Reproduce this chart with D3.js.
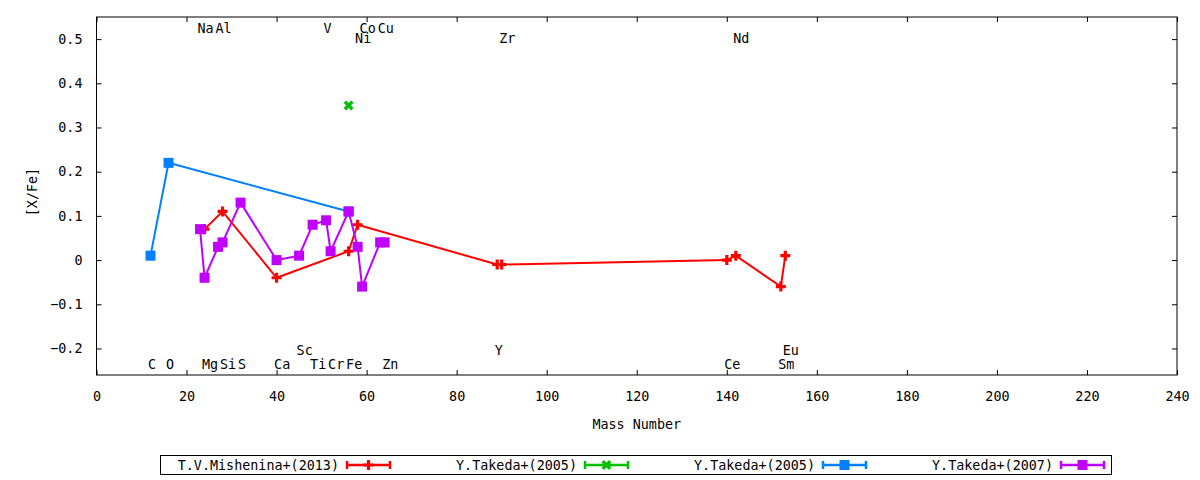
<!DOCTYPE html>
<html>
<head>
<meta charset="utf-8">
<script src="https://cdn.jsdelivr.net/npm/d3@7"></script>
<style>
  body { margin: 0; background: #fff; }
  svg text { font-family: "DejaVu Sans Mono", monospace; font-size: 13.4px; fill: #000; }
</style>
</head>
<body>
<div id="chart"></div>
<script>
// abundance data, mass number vs [X/Fe]
var misheninaMass = [24, 28, 40, 56, 58, 89, 90, 140, 142, 152, 153];
var misheninaXFe  = [0.07, 0.11, -0.04, 0.02, 0.08, -0.01, -0.01, 0.00, 0.01, -0.06, 0.01];

var takeda05aMass = [56];
var takeda05aXFe  = [0.35];

var takeda05bMass = [12, 16, 56];
var takeda05bXFe  = [0.01, 0.22, 0.11];

var takeda07Mass = [23, 24, 27, 28, 32, 40, 45, 48, 51, 52, 56, 58, 59, 63, 64];
var takeda07XFe  = [0.07, -0.04, 0.03, 0.04, 0.13, 0.00, 0.01, 0.08, 0.09, 0.02, 0.11, 0.03, -0.06, 0.04, 0.04];

var seriesNames = ["T.V.Mishenina+(2013)", "Y.Takeda+(2005)", "Y.Takeda+(2005)", "Y.Takeda+(2007)"];

// element name labels
var elemNames = ["Na", "Al", "V", "Co", "Cu", "Ni", "Zr", "Nd",
                 "C", "O", "Mg", "Si", "S", "Ca", "Ti", "Cr", "Fe", "Zn", "Ce", "Sm",
                 "Sc", "Y", "Eu"];
var elemMass  = [23, 27, 51, 59, 63, 58, 90, 142,
                 12, 16, 24, 28, 32, 40, 48, 52, 56, 64, 140, 152,
                 45, 89, 153];
var elemY     = [0.525, 0.525, 0.525, 0.525, 0.525, 0.502, 0.502, 0.502,
                 -0.235, -0.235, -0.235, -0.235, -0.235, -0.235, -0.235, -0.235, -0.235, -0.235, -0.235, -0.235,
                 -0.203, -0.203, -0.203];

var xTicks = d3.range(0, 241, 20);
var yTicks = [-0.2, -0.1, 0, 0.1, 0.2, 0.3, 0.4, 0.5];

var width = 1200, height = 480;
var plotLeft = 96.5, plotRight = 1177, plotTop = 17, plotBottom = 375;

var svg = d3.select("#chart").append("svg").attr("width", width).attr("height", height);

var x = d3.scaleLinear().domain([0, 240]).range([plotLeft, plotRight]);
var y = d3.scaleLinear().domain([-0.26, 0.55]).range([plotBottom, plotTop]);

// axes with inward ticks, mirrored on top and right
svg.append("g").attr("transform", "translate(0," + plotBottom + ")")
    .call(d3.axisBottom(x).tickValues(xTicks).tickSizeInner(-5).tickSizeOuter(0).tickPadding(16).tickFormat(d3.format("d")));
svg.append("g").attr("transform", "translate(0," + plotTop + ")")
    .call(d3.axisTop(x).tickValues(xTicks).tickSizeInner(-5).tickSizeOuter(0).tickFormat(""));
svg.append("g").attr("transform", "translate(" + plotLeft + ",0)")
    .call(d3.axisLeft(y).tickValues(yTicks).tickSizeInner(-5).tickSizeOuter(0).tickPadding(14)
        .tickFormat(function(d) { return d === 0 ? "0" : d3.format(".1f")(d); }));
svg.append("g").attr("transform", "translate(" + plotRight + ",0)")
    .call(d3.axisRight(y).tickValues(yTicks).tickSizeInner(-5).tickSizeOuter(0).tickFormat(""));

svg.selectAll(".domain").remove();
svg.selectAll(".tick line").attr("stroke", "#000");
svg.selectAll(".tick text").style("font-family", "DejaVu Sans Mono").style("font-size", "13.4px");

svg.append("rect")
    .attr("x", plotLeft).attr("y", plotTop)
    .attr("width", plotRight - plotLeft).attr("height", plotBottom - plotTop)
    .attr("fill", "none").attr("stroke", "#000").attr("stroke-width", 1);

// axis titles
svg.append("text").attr("x", (plotLeft + plotRight) / 2).attr("y", 429)
    .attr("text-anchor", "middle").text("Mass Number");
svg.append("text").attr("transform", "translate(37,192) rotate(-90)")
    .attr("text-anchor", "middle").text("[X/Fe]");

// element labels
svg.append("g").selectAll("text")
    .data(elemNames)
    .enter()
    .append("text")
    .attr("x", function(d, i) { return x(elemMass[i]) - 2.5; })
    .attr("y", function(d, i) { return y(elemY[i]); })
    .attr("dy", "0.36em")
    .text(function(d) { return d; });

// marker drawing
function drawMarker(g, kind, color) {
    if (kind == "plus") {
        g.append("path").attr("d", "M-5,0H5M0,-5V5")
            .attr("stroke", color).attr("stroke-width", 3.2).attr("fill", "none");
    } else if (kind == "cross") {
        g.append("path").attr("d", "M-3.8,-3.8L3.8,3.8M-3.8,3.8L3.8,-3.8")
            .attr("stroke", color).attr("stroke-width", 3.4).attr("fill", "none");
    } else {
        g.append("rect").attr("x", -5).attr("y", -5).attr("width", 10).attr("height", 10)
            .attr("fill", color);
    }
}

var series = [
    {name: seriesNames[0], mass: misheninaMass, xfe: misheninaXFe, color: "#ff0000", marker: "plus"},
    {name: seriesNames[1], mass: takeda05aMass, xfe: takeda05aXFe, color: "#00c000", marker: "cross"},
    {name: seriesNames[2], mass: takeda05bMass, xfe: takeda05bXFe, color: "#0080ff", marker: "square"},
    {name: seriesNames[3], mass: takeda07Mass, xfe: takeda07XFe, color: "#c000ff", marker: "square"}
];

var line = d3.line()
    .x(function(d) { return x(d[0]); })
    .y(function(d) { return y(d[1]); });

series.forEach(function(s) {
    var pts = s.mass.map(function(m, i) { return [m, s.xfe[i]]; });
    var g = svg.append("g");
    g.append("path").datum(pts)
        .attr("d", line)
        .attr("fill", "none")
        .attr("stroke", s.color)
        .attr("stroke-width", 2);
    pts.forEach(function(p) {
        var mg = g.append("g").attr("transform", "translate(" + x(p[0]) + "," + y(p[1]) + ")");
        drawMarker(mg, s.marker, s.color);
    });
});

// legend box at the bottom
var legend = svg.append("g");
legend.append("rect")
    .attr("x", 160.5).attr("y", 455.5).attr("width", 951).attr("height", 19)
    .attr("fill", "none").attr("stroke", "#000").attr("stroke-width", 1);

series.forEach(function(s, i) {
    var ex = 339 + i * 238;
    var ly = 465;
    legend.append("text").attr("x", ex).attr("y", ly).attr("dy", "0.36em")
        .attr("text-anchor", "end").text(s.name);
    var x0 = ex + 8, x1 = ex + 51;
    legend.append("path")
        .attr("d", "M" + x0 + "," + ly + "H" + x1 + "M" + x0 + "," + (ly - 4) + "V" + (ly + 4) + "M" + x1 + "," + (ly - 4) + "V" + (ly + 4))
        .attr("stroke", s.color).attr("stroke-width", 2.5).attr("fill", "none");
    var mg = legend.append("g").attr("transform", "translate(" + ((x0 + x1) / 2) + "," + ly + ")");
    drawMarker(mg, s.marker, s.color);
});
</script>
</body>
</html>
